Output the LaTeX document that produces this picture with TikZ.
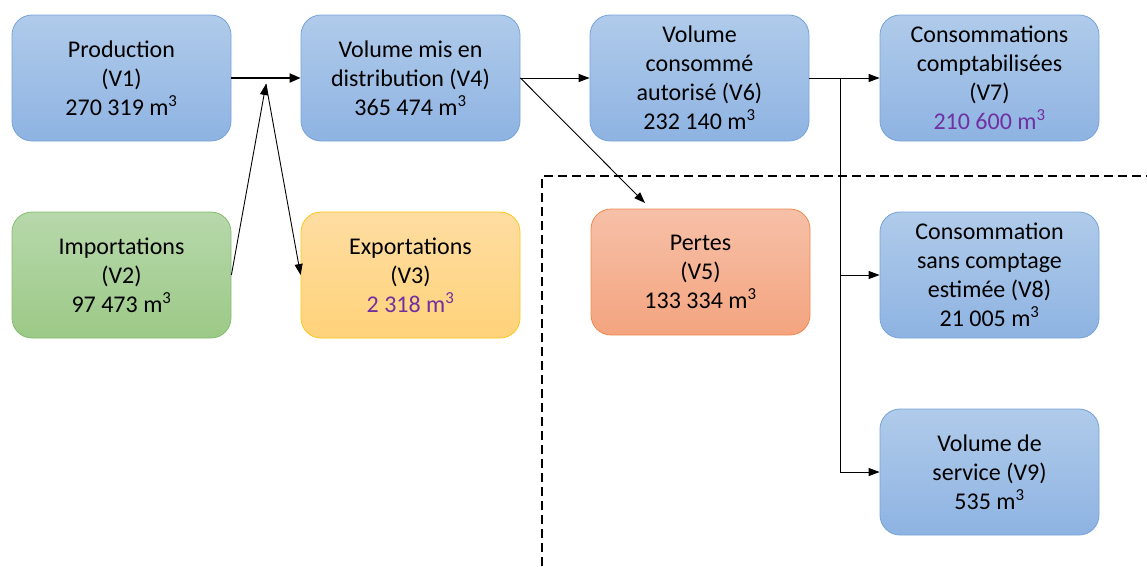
\documentclass[tikz,border=0pt]{standalone}
\usepackage{fontspec}
\setmainfont{Carlito}
\usetikzlibrary{arrows.meta}
\definecolor{bluetop}{HTML}{B0CBEA}
\definecolor{bluebot}{HTML}{8EB3E2}
\definecolor{blueline}{HTML}{76A3D8}
\definecolor{greentop}{HTML}{B7D8AB}
\definecolor{greenbot}{HTML}{9CC987}
\definecolor{greenline}{HTML}{86BC6E}
\definecolor{yeltop}{HTML}{FFDDA2}
\definecolor{yelbot}{HTML}{FFD37A}
\definecolor{yelline}{HTML}{FFC61A}
\definecolor{redtop}{HTML}{F6C0A8}
\definecolor{redbot}{HTML}{F4A47F}
\definecolor{redline}{HTML}{EE8A4E}
\definecolor{purp}{HTML}{7030A0}
\newcommand{\mcube}{m\textsuperscript{3}}
\begin{document}
\begin{tikzpicture}[x=1pt,y=-1pt,
  box/.style={rectangle, rounded corners=20pt, minimum width=219pt, minimum height=126pt,
    inner sep=0pt, align=center, font=\fontsize{24}{29}\selectfont, line width=0.8pt},
  bluebox/.style={box, draw=blueline, top color=bluetop, bottom color=bluebot},
  greenbox/.style={box, draw=greenline, top color=greentop, bottom color=greenbot},
  yelbox/.style={box, draw=yelline, top color=yeltop, bottom color=yelbot},
  redbox/.style={box, draw=redline, top color=redtop, bottom color=redbot},
  arr/.style={line width=0.9pt, -{Triangle[length=11pt,width=8pt]}},
  thickarr/.style={line width=2pt, -{Triangle[length=11pt,width=9pt]}},
  dashbox/.style={line width=1.5pt, dash pattern=on 9pt off 5pt}
]
\useasboundingbox (0,0) rectangle (1147,566);
\coordinate (d1) at (542,566);
\coordinate (d2) at (542,176);
\coordinate (d3) at (1147,176);
\draw[dashbox] (d1) -- (d2) -- (d3);

\node[bluebox] (v1) at (121.5,78) {Production\\(V1)\\270 319 \mcube};
\node[greenbox] (v2) at (121.5,275) {Importations\\(V2)\\97 473 \mcube};
\node[yelbox] (v3) at (410.5,275) {Exportations\\(V3)\\\textcolor{purp}{2 318 \mcube}};
\node[bluebox] (v4) at (410.5,78) {Volume mis en\\distribution (V4)\\365 474 \mcube};
\node[redbox] (v5) at (700.5,272) {Pertes\\(V5)\\133 334 \mcube};
\node[bluebox] (v6) at (699.5,78) {Volume\\consommé\\autorisé (V6)\\232 140 \mcube};
\node[bluebox] (v7) at (989.5,78) {Consommations\\comptabilisées\\(V7)\\\textcolor{purp}{210 600 \mcube}};
\node[bluebox] (v8) at (989.5,275) {Consommation\\sans comptage\\estimée (V8)\\21 005 \mcube};
\node[bluebox] (v9) at (989.5,472) {Volume de\\service (V9)\\535 \mcube};

\coordinate (j) at (266,84);
\coordinate (p5) at (645,203);
\coordinate (b) at (840,78);

\draw[thickarr] (v1.east) -- (v4.west);
\draw[arr] (v2.east) -- (j);
\draw[arr] (j) -- (v3.west);
\draw[arr] (v4.east) -- (v6.west);
\draw[arr] (v4.east) -- (p5);
\draw[arr] (v6.east) -- (v7.west);
\draw[arr] (b) |- (v8.west);
\draw[arr] (b) |- (v9.west);
\end{tikzpicture}
\end{document}
